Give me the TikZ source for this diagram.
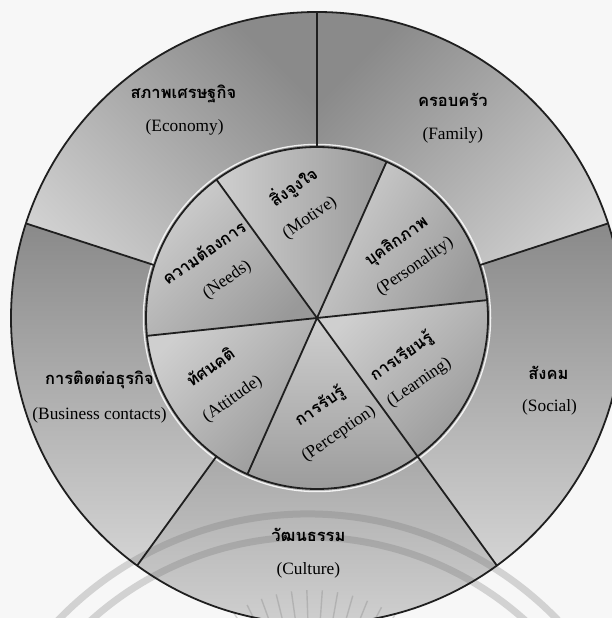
\documentclass[tikz,border=0pt]{standalone}
\usepackage{fontspec}
\setmainfont{Liberation Serif}
\newfontfamily\thai[Script=Thai]{Loma}
\definecolor{odark}{gray}{0.54}
\definecolor{olight}{gray}{0.83}
\definecolor{idark}{gray}{0.60}
\definecolor{ilight}{gray}{0.81}
\definecolor{bgc}{gray}{0.97}
\definecolor{wmk}{gray}{0.45}
\newcommand\outersector[3]{%
  \path[top color=odark, bottom color=olight, shading angle=#3]
    (0,0) -- (#1:306) arc[start angle=#1, end angle=#2, radius=306] -- cycle;}
\newcommand\innersector[3]{%
  \path[top color=idark, bottom color=ilight, shading angle=#3]
    (0,0) -- (#1:171) arc[start angle=#1, end angle=#2, radius=171] -- cycle;}
\begin{document}
\begin{tikzpicture}[x=1pt,y=1pt,
  rim/.style={draw=black!88, line width=1.8pt},
  thlab/.style={font=\thai\bfseries\fontsize{16.5}{19}\selectfont, inner sep=0pt},
  enlab/.style={font=\fontsize{17.3}{20}\selectfont, inner sep=0pt},
  wm/.style={draw=wmk, opacity=0.28}]
\useasboundingbox (0,0) rectangle (612,618);
\clip (0,0) rectangle (612,618);
\fill[bgc] (0,0) rectangle (612,618);
\begin{scope}[shift={(317,300)}]
  % outer sectors
  \outersector{18}{90}{45}
  \outersector{90}{162}{-45}
  \outersector{162}{234}{0}
  \outersector{234}{306}{0}
  \outersector{306}{378}{0}
  % inner sectors
  \innersector{6}{66}{-120}
  \innersector{66}{126}{-90}
  \innersector{126}{186}{-135}
  \innersector{186}{246}{-135}
  \innersector{246}{306}{180}
  \innersector{306}{366}{-135}
\end{scope}
% watermark
\draw[wm, line width=7pt] (308,-243) ++(25:347) arc[start angle=25, end angle=155, radius=347];
\draw[wm, line width=7pt] (308,-243) ++(25:324) arc[start angle=25, end angle=155, radius=324];
\foreach \a in {50,56,...,130} {
  \draw[wm, line width=1.4pt] (312,-120) ++(\a:112) -- ++(\a:36);
}
\begin{scope}[shift={(317,300)}]
  \draw[white, line width=1.3pt, opacity=0.85] (0,0) circle[radius=173.6];
  \foreach \a in {18,90,162,234,306} {
    \draw[rim] (\a:171) -- (\a:306);
  }
  \foreach \a in {6,66,126,186,246,306} {
    \draw[rim] (0,0) -- (\a:171);
  }
  \draw[rim] (0,0) circle[radius=171];
  \draw[rim] (0,0) circle[radius=306];
\end{scope}
% outer labels
\node[thlab] (ecoTh) at (183.4,524.3) {สภาพเศรษฐกิจ};
\node[enlab] (ecoEn) at (184.6,490.4) {(Economy)};
\node[thlab] (famTh) at (452.8,517.7) {ครอบครัว};
\node[enlab] (famEn) at (452.8,482.6) {(Family)};
\node[thlab] (socTh) at (548.4,245.2) {สังคม};
\node[enlab] (socEn) at (549.6,210.9) {(Social)};
\node[thlab] (busTh) at (99.5,238.6) {การติดต่อธุรกิจ};
\node[enlab] (busEn) at (99.5,202.3) {(Business contacts)};
\node[thlab] (culTh) at (308.4,83.3) {วัฒนธรรม};
\node[enlab] (culEn) at (308.4,48.1) {(Culture)};
% inner labels
\node[thlab, rotate=35] (needTh) at (203.5,365.5) {ความต้องการ};
\node[enlab, rotate=35] (needEn) at (227.3,338) {(Needs)};
\node[thlab, rotate=35] (motTh) at (293.3,431.3) {สิ่งจูงใจ};
\node[enlab, rotate=35] (motEn) at (310,400) {(Motive)};
\node[thlab, rotate=35] (perTh) at (396.7,376.3) {บุคลิกภาพ};
\node[enlab, rotate=35] (perEn) at (415,351.3) {(Personality)};
\node[thlab, rotate=35] (lrnTh) at (401.7,261.3) {การเรียนรู้};
\node[enlab, rotate=35] (lrnEn) at (419.3,235.3) {(Learning)};
\node[thlab, rotate=35] (attTh) at (210,251.3) {ทัศนคติ};
\node[enlab, rotate=35] (attEn) at (232.7,218.7) {(Attitude)};
\node[thlab, rotate=35] (pcpTh) at (320,211.3) {การรับรู้};
\node[enlab, rotate=35] (pcpEn) at (338.8,184) {(Perception)};
\end{tikzpicture}
\end{document}
